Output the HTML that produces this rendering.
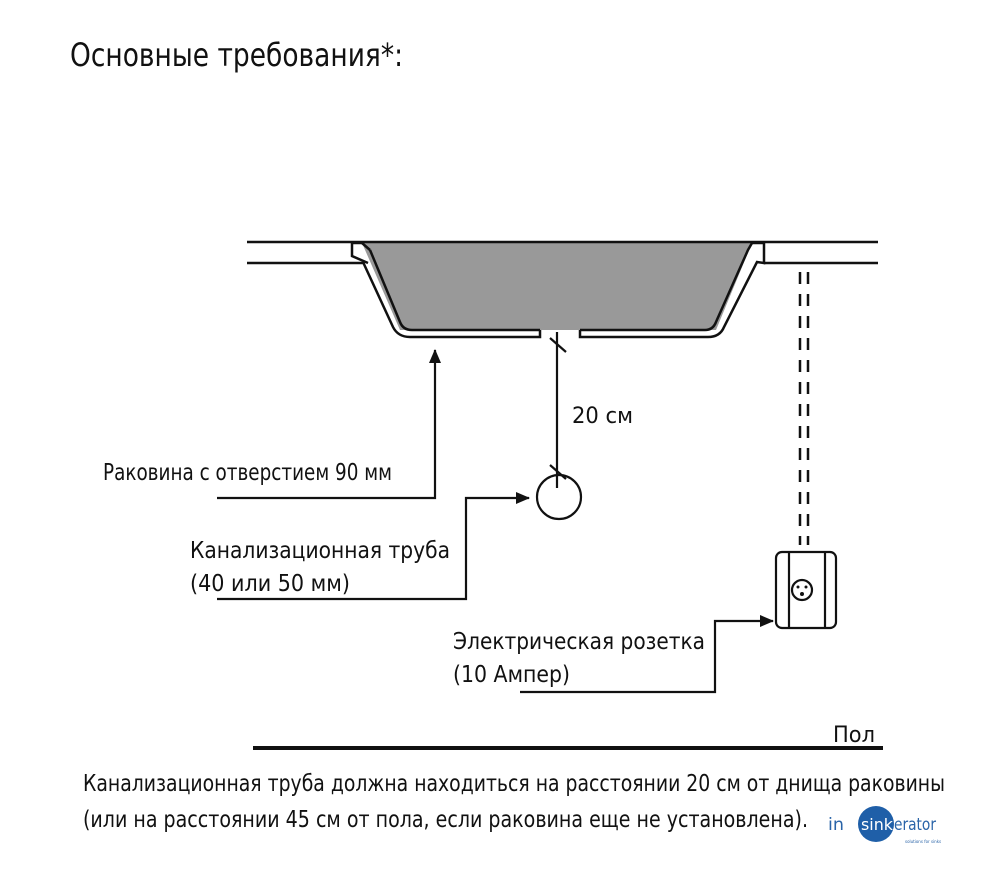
<!DOCTYPE html>
<html><head><meta charset="utf-8"><style>
html,body{margin:0;padding:0;background:#fff;}
svg{display:block;}
text{font-family:"DejaVu Sans","Liberation Sans",sans-serif;fill:#111;}
</style></head><body>
<svg width="1000" height="869" viewBox="0 0 1000 869" xmlns="http://www.w3.org/2000/svg">
<defs><marker id="ah" markerWidth="14" markerHeight="12" refX="13" refY="6" orient="auto" markerUnits="userSpaceOnUse"><path d="M0,0 L14,6 L0,12 Z" fill="#111"/></marker></defs>
<text x="70" y="66" font-size="32" textLength="333" lengthAdjust="spacingAndGlyphs">Основные требования*:</text>

<path d="M362,243 L752,243 L716,330 L400,330 Z" fill="#999"/>
<g stroke="#111" stroke-width="2.5" fill="none">
<line x1="247" y1="242" x2="878" y2="242"/>
<line x1="247" y1="263" x2="363" y2="263"/>
<line x1="764" y1="263" x2="878" y2="263"/>
<path d="M368,263 L352,256 L352,243 M362,243 L352,243"/>
<path d="M363,262 L393,327 Q398,337 410,337 L540,337 L540,330"/>
<path d="M370,250 L400,322 Q403,330 412,330 L540,330"/>
<path d="M580,330 L580,337 L708,337 Q720,337 724,327 L757,262 L764,263 L764,243 L752,243"/>
<path d="M580,330 L705,330 Q713,330 716,322 L748,250 L752,243"/>
<path d="M362,243 L370,250"/>
</g>
<g stroke="#111" stroke-width="2.5" stroke-dasharray="12,10">
<line x1="800" y1="272" x2="800" y2="545"/>
<line x1="808" y1="272" x2="808" y2="545"/>
</g>
<g stroke="#111" stroke-width="2.2" fill="none">
<line x1="557" y1="332" x2="557" y2="488"/>
<line x1="550" y1="338" x2="566" y2="352"/>
<line x1="550" y1="465" x2="566" y2="479"/>
<circle cx="559" cy="497" r="22"/>
<polyline points="217,498 435,498 435,350" marker-end="url(#ah)"/>
<polyline points="217,599 466,599 466,498 529,498" marker-end="url(#ah)"/>
<polyline points="520,692 715,692 715,621 773,621" marker-end="url(#ah)"/>
<rect x="776" y="552" width="60" height="76" rx="6"/>
<line x1="789" y1="553" x2="789" y2="627"/>
<line x1="825" y1="553" x2="825" y2="627"/>
<circle cx="802" cy="590" r="10"/>
</g>
<circle cx="798" cy="587" r="1.5" fill="#111"/><circle cx="806" cy="587" r="1.5" fill="#111"/><circle cx="802" cy="594" r="2" fill="#111"/>
<line x1="253" y1="748" x2="883" y2="748" stroke="#111" stroke-width="4"/>

<text x="572" y="423" font-size="22" textLength="61" lengthAdjust="spacingAndGlyphs">20 см</text>
<text x="103" y="480" font-size="23" textLength="289" lengthAdjust="spacingAndGlyphs">Раковина с отверстием 90 мм</text>
<text x="190" y="558" font-size="23" textLength="260" lengthAdjust="spacingAndGlyphs">Канализационная труба</text>
<text x="190" y="591" font-size="23" textLength="160" lengthAdjust="spacingAndGlyphs">(40 или 50 мм)</text>
<text x="453" y="649" font-size="23" textLength="252" lengthAdjust="spacingAndGlyphs">Электрическая розетка</text>
<text x="453" y="682" font-size="23" textLength="117" lengthAdjust="spacingAndGlyphs">(10 Ампер)</text>
<text x="833" y="742" font-size="22" textLength="42" lengthAdjust="spacingAndGlyphs">Пол</text>
<text x="83" y="791" font-size="23" textLength="862" lengthAdjust="spacingAndGlyphs">Канализационная труба должна находиться на расстоянии 20 см от днища раковины</text>
<text x="83" y="827" font-size="23" textLength="725" lengthAdjust="spacingAndGlyphs">(или на расстоянии 45 см от пола, если раковина еще не установлена).</text>
<circle cx="876" cy="824" r="18" fill="#1f5fa8"/>
<text x="828" y="830" font-size="17" textLength="16" lengthAdjust="spacingAndGlyphs" style="fill:#2a64a8">in</text>
<text x="861" y="830" font-size="16" textLength="32" lengthAdjust="spacingAndGlyphs" style="fill:#fff">sink</text>
<text x="894" y="830" font-size="17" textLength="42" lengthAdjust="spacingAndGlyphs" style="fill:#2a64a8">erator</text>
<text x="905" y="843" font-size="4" style="fill:#2a64a8">solutions for sinks</text>
</svg>
</body></html>
